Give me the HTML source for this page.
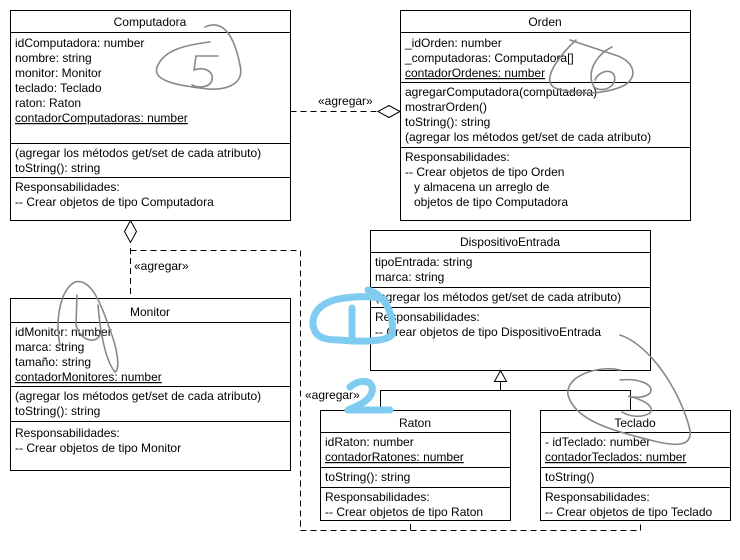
<!DOCTYPE html>
<html><head><meta charset="utf-8"><style>
html,body{margin:0;padding:0;background:#fff;}
svg{display:block;}
text{font-family:"Liberation Sans",sans-serif;font-size:12px;fill:#000;white-space:pre;}
</style></head><body>
<svg width="740" height="560" viewBox="0 0 740 560" xmlns="http://www.w3.org/2000/svg" xml:space="preserve">
<g fill="#fff" stroke="#000" stroke-width="1" shape-rendering="crispEdges">
<rect x="10.5" y="10.5" width="280" height="210"/>
<line x1="10" y1="32.5" x2="290" y2="32.5"/>
<line x1="10" y1="143.5" x2="290" y2="143.5"/>
<line x1="10" y1="177.5" x2="290" y2="177.5"/>
<rect x="400.5" y="10.5" width="290" height="210"/>
<line x1="400" y1="32.5" x2="690" y2="32.5"/>
<line x1="400" y1="82.5" x2="690" y2="82.5"/>
<line x1="400" y1="147.5" x2="690" y2="147.5"/>
<rect x="10.5" y="298.5" width="280" height="172"/>
<line x1="10" y1="322.5" x2="290" y2="322.5"/>
<line x1="10" y1="386.5" x2="290" y2="386.5"/>
<line x1="10" y1="421.5" x2="290" y2="421.5"/>
<rect x="370.5" y="230.5" width="280" height="140"/>
<line x1="370" y1="252.5" x2="650" y2="252.5"/>
<line x1="370" y1="287.5" x2="650" y2="287.5"/>
<line x1="370" y1="307.5" x2="650" y2="307.5"/>
<rect x="320.5" y="410.5" width="190" height="110"/>
<line x1="320" y1="432.5" x2="510" y2="432.5"/>
<line x1="320" y1="467.5" x2="510" y2="467.5"/>
<line x1="320" y1="487.5" x2="510" y2="487.5"/>
<rect x="540.5" y="410.5" width="190" height="110"/>
<line x1="540" y1="432.5" x2="730" y2="432.5"/>
<line x1="540" y1="467.5" x2="730" y2="467.5"/>
<line x1="540" y1="487.5" x2="730" y2="487.5"/>
</g>
<g fill="none" stroke="#000" stroke-width="1" stroke-dasharray="6,4">
<path d="M290.5 111.5 H378"/>
<path d="M130.5 248 V298 M130.5 250.5 H300.5 V530.5 H640.5 V520 M410.5 530 V520"/>
</g>
<g fill="#fff" stroke="#000" stroke-width="1">
<path d="M378 111.5 L389 105.5 L400 111.5 L389 117.5 Z"/>
<path d="M130.5 220.5 L124.5 231.5 L130.5 242.5 L136.5 231.5 Z"/>
<path d="M500.5 370.5 L494.5 381.5 L506.5 381.5 Z"/>
<path d="M500.5 381.5 V390.5 M380.5 410 V390.5 H630.5 V410" fill="none"/>
</g>
<text x="318" y="105">«agregar»</text>
<text x="134" y="270">«agregar»</text>
<text x="305" y="399">«agregar»</text>
<text x="150" y="26" text-anchor="middle">Computadora</text>
<text x="15" y="47">idComputadora: number</text>
<text x="15" y="62">nombre: string</text>
<text x="15" y="77">monitor: Monitor</text>
<text x="15" y="92">teclado: Teclado</text>
<text x="15" y="107">raton: Raton</text>
<text x="15" y="122" text-decoration="underline">contadorComputadoras: number</text>
<text x="15" y="157">(agregar los métodos get/set de cada atributo)</text>
<text x="15" y="172">toString(): string</text>
<text x="15" y="191">Responsabilidades:</text>
<text x="15" y="206">-- Crear objetos de tipo Computadora</text>
<text x="545" y="26" text-anchor="middle">Orden</text>
<text x="405" y="47">_idOrden: number</text>
<text x="405" y="62">_computadoras: Computadora[]</text>
<text x="405" y="77" text-decoration="underline">contadorOrdenes: number</text>
<text x="405" y="96">agregarComputadora(computadora)</text>
<text x="405" y="111">mostrarOrden()</text>
<text x="405" y="126">toString(): string</text>
<text x="405" y="141">(agregar los métodos get/set de cada atributo)</text>
<text x="405" y="161">Responsabilidades:</text>
<text x="405" y="176">-- Crear objetos de tipo Orden</text>
<text x="414" y="191">y almacena un arreglo de</text>
<text x="414" y="206">objetos de tipo Computadora</text>
<text x="150" y="316" text-anchor="middle">Monitor</text>
<text x="15" y="336">idMonitor: number</text>
<text x="15" y="351">marca: string</text>
<text x="15" y="366">tamaño: string</text>
<text x="15" y="381" text-decoration="underline">contadorMonitores: number</text>
<text x="15" y="400">(agregar los métodos get/set de cada atributo)</text>
<text x="15" y="415">toString(): string</text>
<text x="15" y="437">Responsabilidades:</text>
<text x="15" y="452">-- Crear objetos de tipo Monitor</text>
<text x="510" y="246" text-anchor="middle">DispositivoEntrada</text>
<text x="375" y="266">tipoEntrada: string</text>
<text x="375" y="281">marca: string</text>
<text x="375" y="301">(agregar los métodos get/set de cada atributo)</text>
<text x="375" y="321">Responsabilidades:</text>
<text x="375" y="336">-- Crear objetos de tipo DispositivoEntrada</text>
<text x="415" y="427" text-anchor="middle">Raton</text>
<text x="325" y="446">idRaton: number</text>
<text x="325" y="461" text-decoration="underline">contadorRatones: number</text>
<text x="325" y="481">toString(): string</text>
<text x="325" y="501">Responsabilidades:</text>
<text x="325" y="516">-- Crear objetos de tipo Raton</text>
<text x="635" y="427" text-anchor="middle">Teclado</text>
<text x="545" y="446">- idTeclado: number</text>
<text x="545" y="461" text-decoration="underline">contadorTeclados: number</text>
<text x="545" y="481">toString()</text>
<text x="545" y="501">Responsabilidades:</text>
<text x="545" y="516">-- Crear objetos de tipo Teclado</text>
<g fill="none" stroke="#888" stroke-width="1.6" stroke-linecap="round">
<path d="M205 27 C225 18 235 40 240 65 C245 85 225 92 200 88 C175 85 150 80 158 65 C165 50 185 45 210 42"/>
<path d="M218 56 L196 56 L194 70 C205 66 214 72 212 80 C210 88 198 88 192 85"/>
<path d="M576 40 C560 55 540 80 555 88 C575 95 605 95 625 85 C640 75 632 60 615 55 C600 50 585 45 570 40"/>
<path d="M612 47 C595 55 585 75 595 88 C605 93 618 85 614 75 C610 68 598 72 595 80"/>
<path d="M60 345 C55 320 60 290 75 282 C90 278 100 300 110 330 C118 350 120 370 115 372 C105 360 100 330 98 305 M77 295 L76 325 C80 340 95 345 100 335"/>
<path d="M620 335 C650 345 680 390 690 430 C692 445 680 448 650 440 C610 430 575 420 568 395 C565 375 600 365 620 370 M620 380 C640 378 655 385 650 393 C645 398 635 398 628 396 C645 400 655 407 650 413 C642 418 630 417 622 412"/>
</g>
<g fill="none" stroke="#80ccf0" stroke-width="7" stroke-linecap="round" stroke-linejoin="round">
<path d="M368 290 C385 295 395 315 392 335 C385 342 360 342 340 340 C325 340 315 338 313 325 C312 310 325 300 345 298 C360 296 375 296 385 300"/>
<path d="M352 308 L352 338"/>
<path d="M350 387 C360 378 375 380 372 392 C370 400 360 405 348 410 L390 410"/>
</g>
</svg>
</body></html>
